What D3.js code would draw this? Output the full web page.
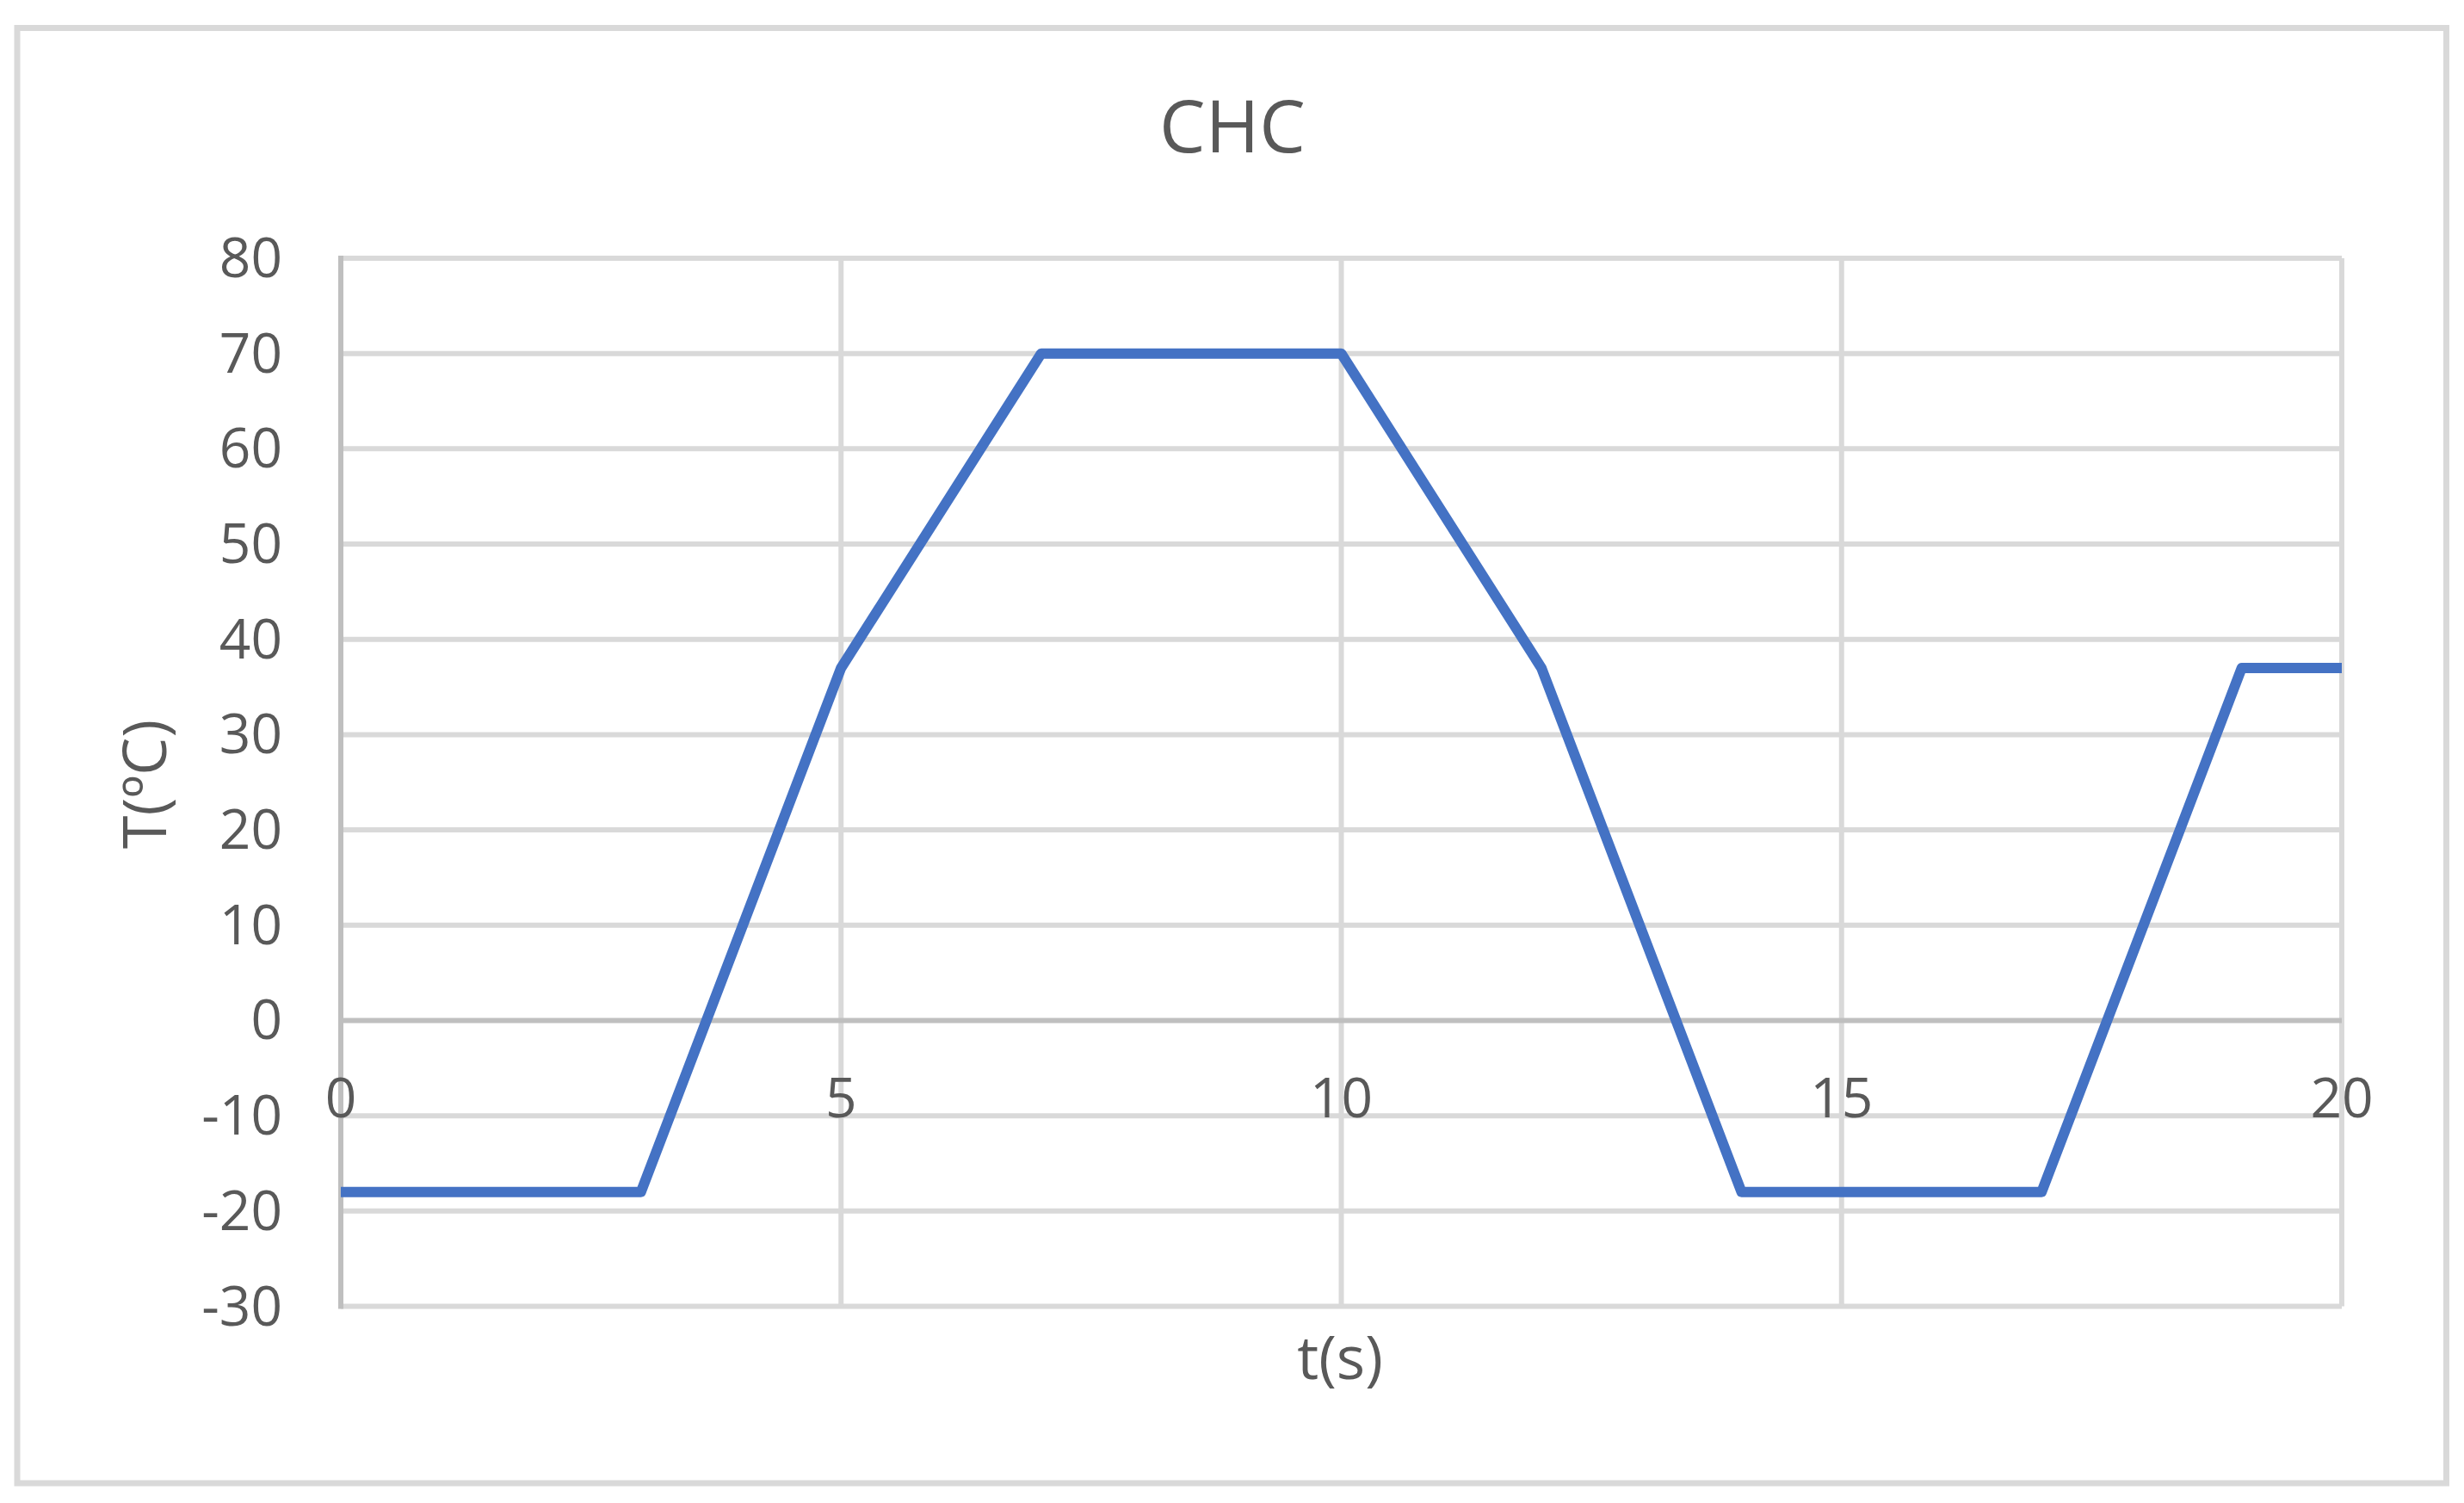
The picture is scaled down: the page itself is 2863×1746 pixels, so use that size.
<!DOCTYPE html>
<html><head><meta charset="utf-8">
<script src="https://cdn.jsdelivr.net/npm/d3@7"></script>
<style>html,body{margin:0;padding:0;background:#fff;}</style>
</head><body>
<script>
const times = [0, 3, 5, 7, 10, 12, 14, 17, 19, 20];
const temps = [-18, -18, 37, 70, 70, 37, -18, -18, 37, 37];
const xTicks = [0, 5, 10, 15, 20];
const yTicks = [-30, -20, -10, 0, 10, 20, 30, 40, 50, 60, 70, 80];
const chartTitle = "CHC";
const xTitle = "t(s)";
const yTitle = "T(ºC)";

const W = 2863, H = 1746;
const font = "'Open Sans', 'Noto Sans', sans-serif";
const svg = d3.select("body").append("svg").attr("width", W).attr("height", H);

svg.append("rect").attr("x", 20).attr("y", 32.5).attr("width", 2822.5).attr("height", 1690.5)
  .attr("fill", "#fff").attr("stroke", "#d9d9d9").attr("stroke-width", 7);

const x = d3.scaleLinear().domain([0, 20]).range([396, 2721]);
const y = d3.scaleLinear().domain([-30, 80]).range([1517.5, 300]);

// grid
svg.append("g").selectAll("line").data(yTicks.filter(v => v !== 0)).join("line")
  .attr("x1", x(0)).attr("x2", x(20)).attr("y1", d => y(d)).attr("y2", d => y(d))
  .attr("stroke", "#d9d9d9").attr("stroke-width", 6);
svg.append("g").selectAll("line").data(xTicks.filter(v => v !== 0)).join("line")
  .attr("x1", d => x(d)).attr("x2", d => x(d)).attr("y1", y(80)).attr("y2", y(-30))
  .attr("stroke", "#d9d9d9").attr("stroke-width", 6);

// axes lines
svg.append("line").attr("x1", x(0)).attr("x2", x(0)).attr("y1", y(80) - 3).attr("y2", y(-30) + 3)
  .attr("stroke", "#bfbfbf").attr("stroke-width", 6);
svg.append("line").attr("x1", x(0)).attr("x2", x(20)).attr("y1", y(0)).attr("y2", y(0))
  .attr("stroke", "#bfbfbf").attr("stroke-width", 6);

// tick labels
svg.append("g").selectAll("text").data(yTicks).join("text")
  .attr("x", 328).attr("y", d => y(d) + 22).attr("text-anchor", "end")
  .attr("font-family", font).attr("font-size", 64).attr("fill", "#595959").text(d => d);
svg.append("g").selectAll("text").data(xTicks).join("text")
  .attr("x", d => x(d)).attr("y", 1298).attr("text-anchor", "middle")
  .attr("font-family", font).attr("font-size", 64).attr("fill", "#595959").text(d => d);

// line
const data = times.map((t, i) => ({t, v: temps[i]}));
svg.append("path").datum(data)
  .attr("d", d3.line().x(d => x(d.t)).y(d => y(d.v)))
  .attr("fill", "none").attr("stroke", "#4472c4").attr("stroke-width", 12)
  .attr("stroke-linejoin", "round").attr("stroke-linecap", "butt");

// titles
svg.append("text").attr("x", 1432).attr("y", 177).attr("text-anchor", "middle")
  .attr("font-family", font).attr("font-size", 85).attr("fill", "#595959").text(chartTitle);
svg.append("text").attr("x", 1557).attr("y", 1602).attr("text-anchor", "middle")
  .attr("font-family", font).attr("font-size", 70).attr("fill", "#595959").text(xTitle);
svg.append("text").attr("transform", "translate(193,911) rotate(-90)").attr("text-anchor", "middle")
  .attr("font-family", font).attr("font-size", 70).attr("fill", "#595959").text(yTitle);
</script>
</body></html>
